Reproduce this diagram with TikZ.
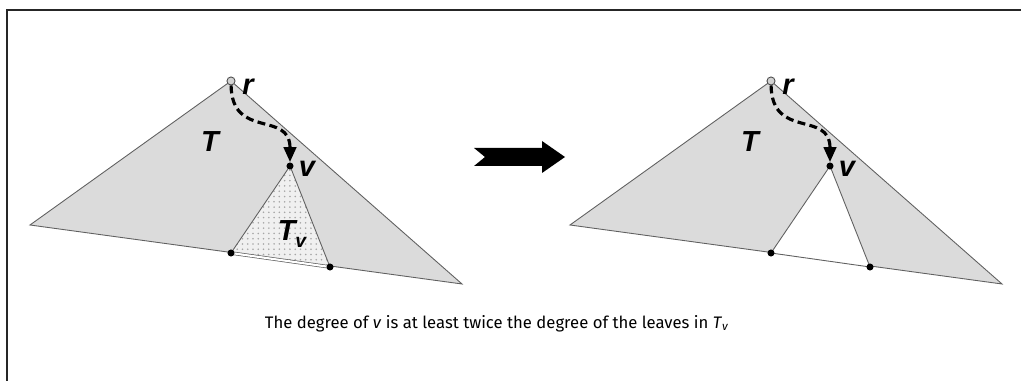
\documentclass[tikz,border=0pt]{standalone}
\usepackage{fontspec}
\setmainfont{Fira Sans}
\newfontfamily\labelfont{Liberation Sans}
\usetikzlibrary{arrows.meta,patterns}

\tikzset{
  tree/.style={draw=gray!75!black,fill=gray!28,line width=0.5pt},
  subtree/.style={draw=gray!75!black,line width=0.5pt},
  leaf/.style={circle,fill=black,inner sep=0pt,minimum size=4pt},
  root/.style={circle,draw=gray!60!black,fill=gray!35,inner sep=0pt,minimum size=4.6pt,line width=0.5pt},
  lbl/.style={font=\labelfont\bfseries\itshape\fontsize{16.5}{16.5}\selectfont,inner sep=0pt},
  rootpath/.style={-{Triangle[length=8.5pt,width=7pt]},line width=1.8pt,dash pattern=on 4.5pt off 2.5pt}
}

\begin{document}
\begin{tikzpicture}[x=0.02cm,y=-0.02cm]
\useasboundingbox (0,0) rectangle (1021,381);
% frame
\draw[line width=1pt,black!85] (7,381) -- (7,10) -- (1021,10);

% left: tree T with subtree T_v
\coordinate (tl) at (30,225);
\coordinate (tr) at (462,284);
\coordinate (rc) at (231,81);
\coordinate (vc) at (290,166);
\coordinate (pc) at (231,253);
\coordinate (qc) at (330,267);
\draw[tree] (rc) -- (tl) -- (tr) -- cycle;
\fill[gray!12] (vc) -- (pc) -- (qc) -- cycle;
\fill[pattern=dots,pattern color=gray!70] (vc) -- (pc) -- (qc) -- cycle;
\draw[subtree] (pc) -- (vc) -- (qc);
\draw[draw=gray!75!black,double=white,double distance=1.2pt,line width=0.4pt] (pc) -- (qc);
\node[root] (r) at (rc) {};
\node[leaf] (v) at (vc) {};
\node[leaf] (p) at (pc) {};
\node[leaf] (q) at (qc) {};
\node[lbl] (T) at (210,142) {T};
\node[lbl] (rl) at (248,87) {r};
\node[lbl] (vl) at (307,169) {v};
\node[lbl] (Tv) at (292,234) {T\raisebox{-0.45ex}{\fontsize{11}{11}\selectfont v}};
\draw[rootpath] (r) .. controls (232,140) and (290,110) .. (v);

% arrow
\fill (474,148) -- (542,148) -- (542,141) -- (565,157) -- (542,173) -- (542,166) -- (474,166) -- (485,157) -- cycle;

% right: T_v removed
\coordinate (tl2) at (570,225);
\coordinate (tr2) at (1002,284);
\coordinate (rc2) at (771,81);
\coordinate (vc2) at (830,166);
\coordinate (pc2) at (771,253);
\coordinate (qc2) at (870,267);
\draw[tree] (rc2) -- (tl2) -- (tr2) -- cycle;
\fill[white] (vc2) -- (pc2) -- (qc2) -- cycle;
\draw[subtree] (vc2) -- (pc2) -- (qc2) -- cycle;
\node[root] (r2) at (rc2) {};
\node[leaf] (v2) at (vc2) {};
\node[leaf] (p2) at (pc2) {};
\node[leaf] (q2) at (qc2) {};
\node[lbl] (T2) at (750,142) {T};
\node[lbl] (rl2) at (788,87) {r};
\node[lbl] (vl2) at (847,169) {v};
\draw[rootpath] (r2) .. controls (772,140) and (830,110) .. (v2);

% caption
\node[font=\fontsize{9.5}{11}\selectfont] (cap) at (497,324) {The degree of \textit{v} is at least twice the degree of the leaves in \textit{T}\textsubscript{\textit{v}}};
\end{tikzpicture}
\end{document}
